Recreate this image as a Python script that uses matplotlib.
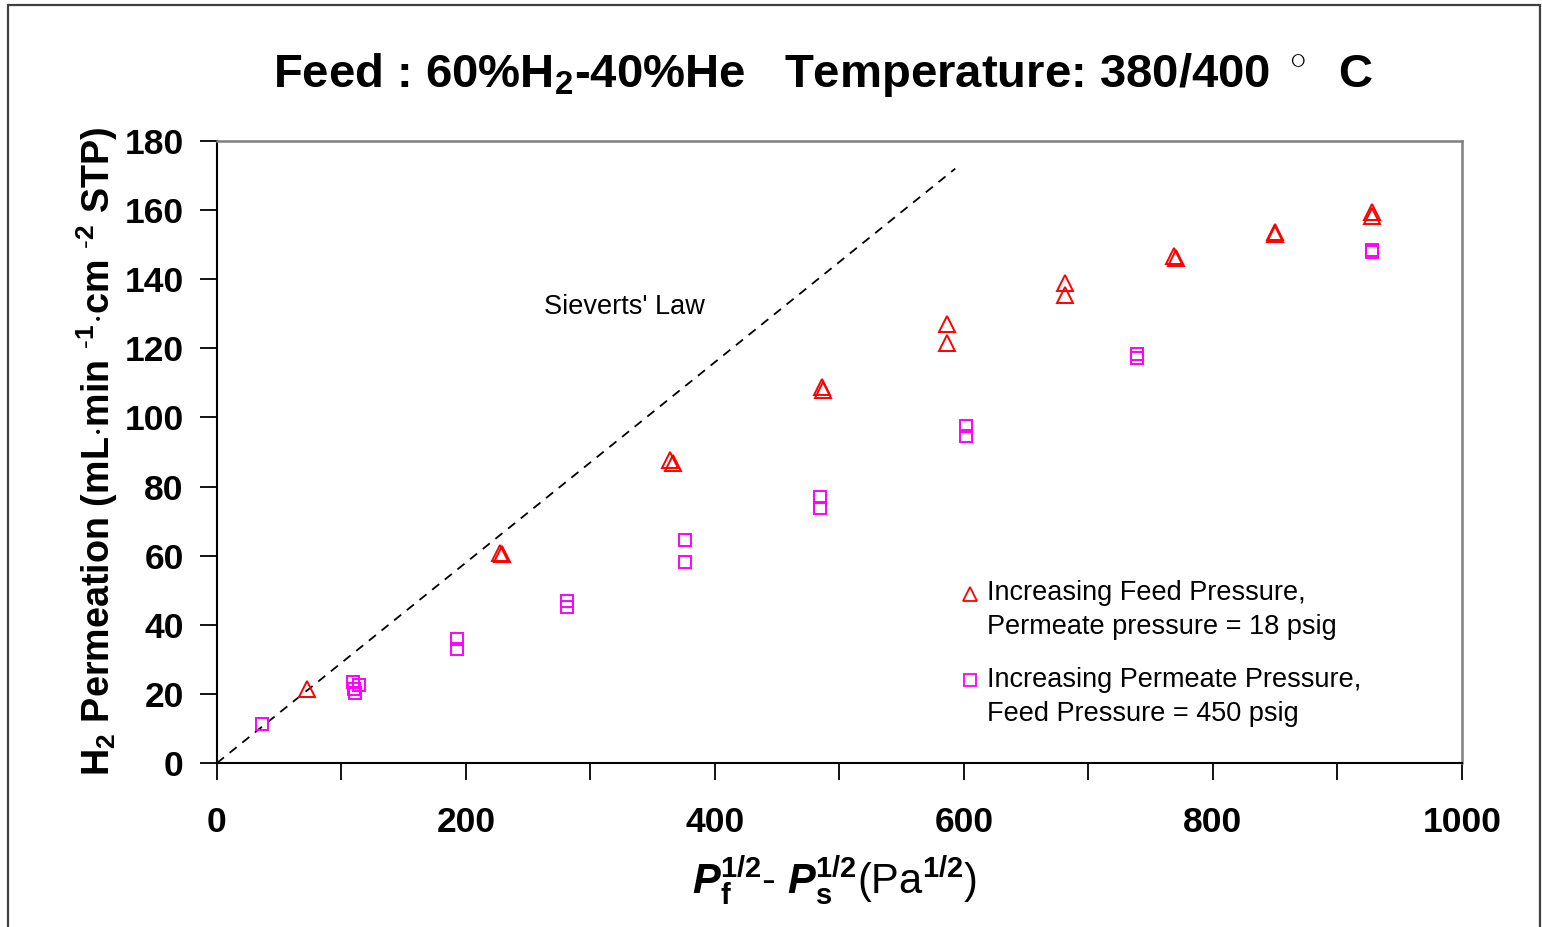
import matplotlib

matplotlib.use("Agg")

import matplotlib.pyplot as plt
from matplotlib.patches import Rectangle
from matplotlib.ticker import MultipleLocator

# values
feed_x = [72, 227, 229, 364, 366, 486, 487, 586, 586, 681, 681, 769, 770, 850, 850, 928, 928]
feed_y = [21.5, 60.8, 60.5, 87.7, 86.8, 108.8, 108.0, 127.0, 121.5, 139.0, 135.4, 146.7, 146.1, 153.6, 153.0, 159.4, 158.3]

perm_x = [36, 109, 114, 110, 111, 193, 193, 281, 281, 376, 376, 484, 484, 602, 602, 739, 739, 928, 928]
perm_y = [11.3, 23.5, 22.5, 21.3, 20.3, 36.0, 32.9, 47.0, 45.2, 64.5, 58.2, 77.0, 73.8, 97.5, 94.7, 118.3, 117.2, 148.4, 147.9]

sieverts_x = [0, 593]
sieverts_y = [0, 172]

x_ticks = [0, 200, 400, 600, 800, 1000]
y_ticks = [0, 20, 40, 60, 80, 100, 120, 140, 160, 180]

plt.rcParams["font.family"] = ["Liberation Sans", "DejaVu Sans"]
plt.rcParams["mathtext.fontset"] = "custom"
plt.rcParams["mathtext.rm"] = "Liberation Sans"
plt.rcParams["mathtext.it"] = "Liberation Sans:italic"
plt.rcParams["mathtext.bf"] = "Liberation Sans:bold"
plt.rcParams["mathtext.bfit"] = "Liberation Sans:italic:bold"


def main():
    fig = plt.figure(figsize=(15.42, 9.27), dpi=100)
    ax = fig.add_axes([0.1407, 0.1769, 0.8074, 0.6710])

    ax.plot(sieverts_x, sieverts_y, color="black", lw=1.3, linestyle=(0, (5, 4)))
    ax.plot(feed_x, feed_y, linestyle="none", marker="^", ms=11, mfc="none",
            mec="red", mew=1.4)
    ax.plot(perm_x, perm_y, linestyle="none", marker="s", ms=9, mfc="none",
            mec="magenta", mew=1.4)

    ax.set_xlim(0, 1000)
    ax.set_ylim(0, 180)
    ax.set_xticks(x_ticks)
    ax.set_yticks(y_ticks)
    ax.xaxis.set_minor_locator(MultipleLocator(100))
    ax.tick_params(axis="both", which="both", direction="out", length=12,
                   width=1.3, labelsize=25.5)
    ax.tick_params(axis="x", pad=19)
    ax.tick_params(axis="y", pad=12)
    for lab in ax.get_xticklabels() + ax.get_yticklabels():
        lab.set_fontweight("bold")

    for side in ("left", "bottom"):
        ax.spines[side].set_color("black")
        ax.spines[side].set_linewidth(1.5)
    for side in ("top", "right"):
        ax.spines[side].set_color("#808080")
        ax.spines[side].set_linewidth(1.8)

    ax.text(327, 132, "Sieverts' Law", fontsize=19.5, ha="center", va="center")

    # legend drawn by hand so the marker sits on the first text line
    ax.plot([0.605], [0.272], transform=ax.transAxes, marker="^", ms=10,
            mfc="none", mec="red", mew=1.3, clip_on=False)
    ax.text(0.6185, 0.2455, "Increasing Feed Pressure,\nPermeate pressure = 18 psig",
            transform=ax.transAxes, fontsize=19.5, ha="left", va="center",
            linespacing=1.4)
    ax.plot([0.605], [0.1334], transform=ax.transAxes, marker="s", ms=9,
            mfc="none", mec="magenta", mew=1.3, clip_on=False)
    ax.text(0.6185, 0.106, "Increasing Permeate Pressure,\nFeed Pressure = 450 psig",
            transform=ax.transAxes, fontsize=19.5, ha="left", va="center",
            linespacing=1.4)

    fig.text(0.534, 0.919,
             r"Feed : 60%H$_\mathbf{2}$-40%He   Temperature: 380/400 $^\circ$  C",
             fontsize=34, fontweight="bold", ha="center", va="center")
    fig.text(0.063, 0.513,
             r"H$_\mathbf{2}$ Permeation (mL$\cdot$min $^{\text{-}\mathbf{1}}$$\cdot$cm $^{\text{-}\mathbf{2}}$ STP)",
             fontsize=27.2, fontweight="bold", rotation=90, ha="center", va="center")
    fig.text(0.541, 0.0507,
             r"$\mathbfit{P}_{\mathbf{f}}^{\mathbf{1/2}}\mathbf{\text{- }}\mathbfit{P}_{\mathbf{s}}^{\mathbf{1/2}}\mathrm{(Pa}^{\mathbf{1/2}}\mathrm{)}$",
             fontsize=30, ha="center", va="center")

    fig.patches.append(Rectangle((8 / 1542, -0.05), 1532 / 1542, 1.05 - 5 / 927,
                                 transform=fig.transFigure, fill=False,
                                 edgecolor="#404040", lw=1.6))

    fig.savefig("out.png", dpi=100)
    plt.close(fig)


if __name__ == "__main__":
    main()
